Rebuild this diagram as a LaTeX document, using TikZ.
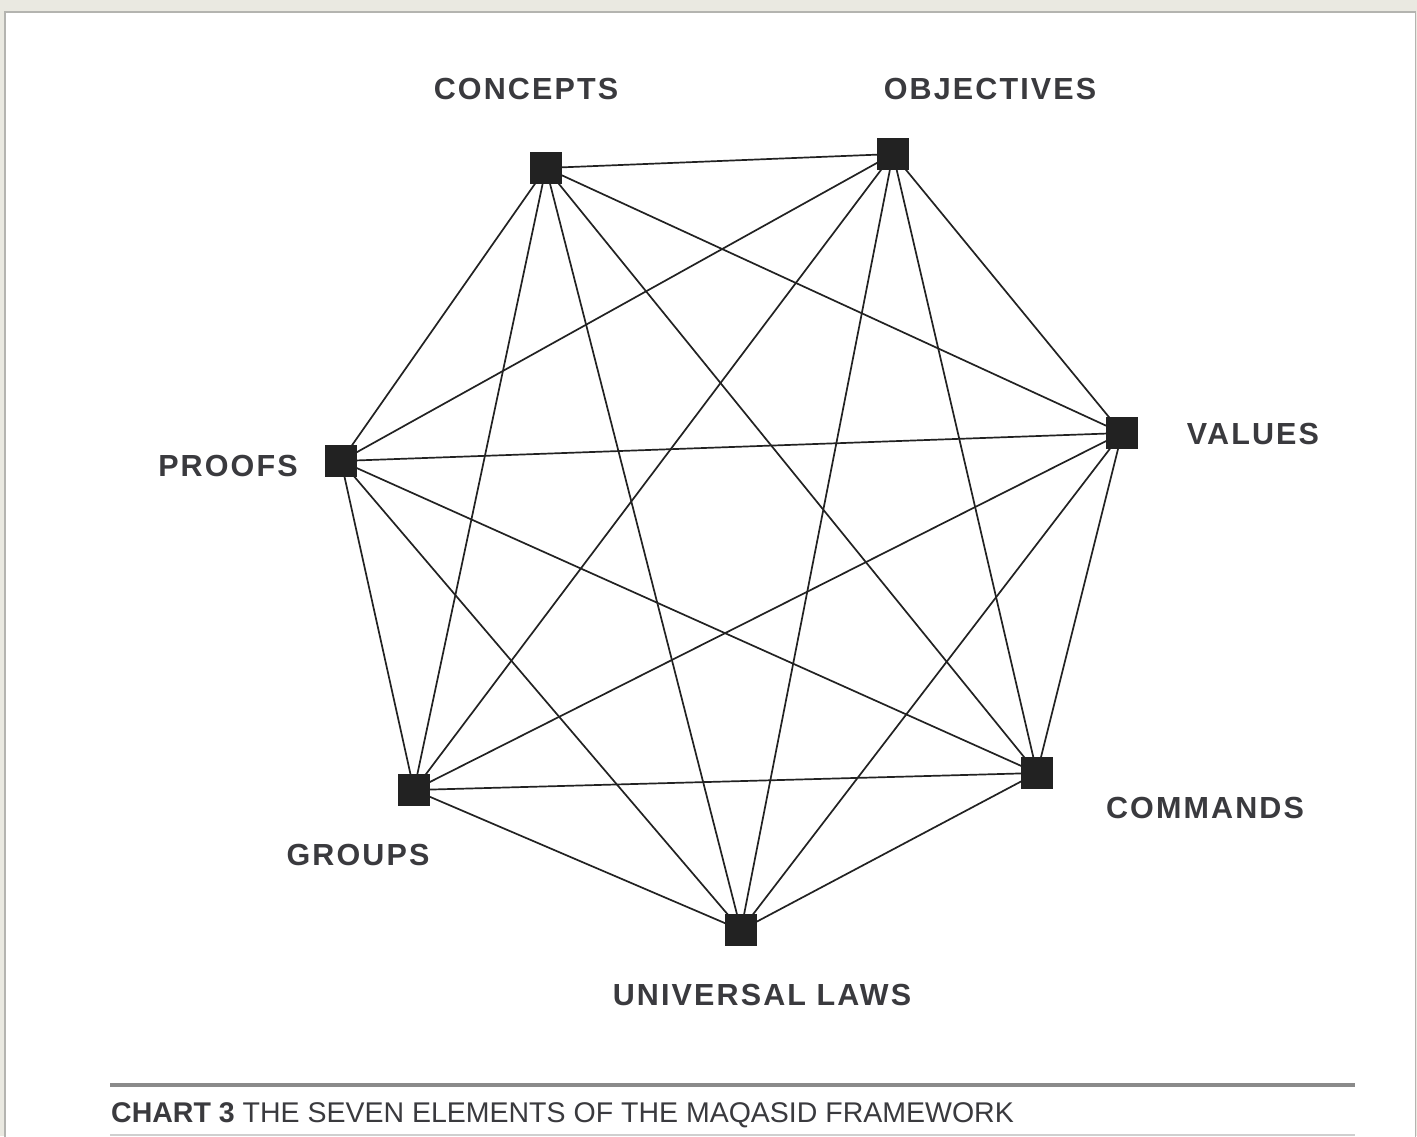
\documentclass[tikz,border=0pt]{standalone}
\usepackage{fontspec}
\setmainfont{Liberation Sans}
\newfontfamily\labfont[LetterSpace=7]{Liberation Sans}
\definecolor{bgbeige}{HTML}{EAE9E1}
\definecolor{panelline}{HTML}{B4B4B0}
\definecolor{inkdark}{HTML}{222222}
\definecolor{labgray}{HTML}{3A3A3E}
\definecolor{rulegray}{HTML}{8A8A8A}
\definecolor{rulelight}{HTML}{CFCFCF}
\begin{document}
\begin{tikzpicture}[x=1pt,y=-1pt,
  vert/.style={fill=inkdark,draw=inkdark,minimum size=31pt,inner sep=0pt,line width=0.8pt},
  edge/.style={draw=inkdark,line width=1.7pt},
  lab/.style={text=labgray,font=\labfont\bfseries\fontsize{30.5}{33}\selectfont,inner sep=0pt,anchor=center}]
\useasboundingbox (0,0) rectangle (1417,1136);
\fill[bgbeige] (0,0) rectangle (1417,1136);
\fill[white] (4,11) rectangle (1416,1140);
\draw[panelline,line width=1.5pt] (4.75,1140) -- (4.75,11.75) -- (1415.25,11.75) -- (1415.25,1140);
% vertices
\node[vert] (con) at (546,168) {};
\node[vert] (obj) at (893,154) {};
\node[vert] (val) at (1122,433) {};
\node[vert] (com) at (1037,773) {};
\node[vert] (uni) at (741,930) {};
\node[vert] (gro) at (414,790) {};
\node[vert] (pro) at (341,461) {};
% edges
\foreach \a/\b in {con/obj,con/val,con/com,con/uni,con/gro,con/pro,
  obj/val,obj/com,obj/uni,obj/gro,obj/pro,
  val/com,val/uni,val/gro,val/pro,
  com/uni,com/gro,com/pro,
  uni/gro,uni/pro,
  gro/pro}
  \draw[edge] (\a.center) -- (\b.center);
% redraw vertices on top
\foreach \n in {con,obj,val,com,uni,gro,pro}
  \fill[inkdark] (\n.south west) rectangle (\n.north east);
% labels
\node[lab] (lcon) at (526,89) {CONCEPTS};
\node[lab] (lobj) at (990,89) {OBJECTIVES};
\node[lab] (lval) at (1253,434) {VALUES};
\node[lab] (lpro) at (228,466) {PROOFS};
\node[lab] (lgro) at (358,855) {GROUPS};
\node[lab] (luni) at (762,995) {UNIVERSAL LAWS};
\node[lab] (lcom) at (1205,808) {COMMANDS};
% caption
\draw[rulegray,line width=4pt] (110,1085) -- (1355,1085);
\draw[rulelight,line width=2pt] (110,1135) -- (1355,1135);
\node[anchor=base west,inner sep=0pt,text=labgray,font=\fontsize{28.5}{31}\selectfont] (cap) at (111,1122)
  {\textbf{CHART 3} THE SEVEN ELEMENTS OF THE MAQASID FRAMEWORK};
\end{tikzpicture}
\end{document}
